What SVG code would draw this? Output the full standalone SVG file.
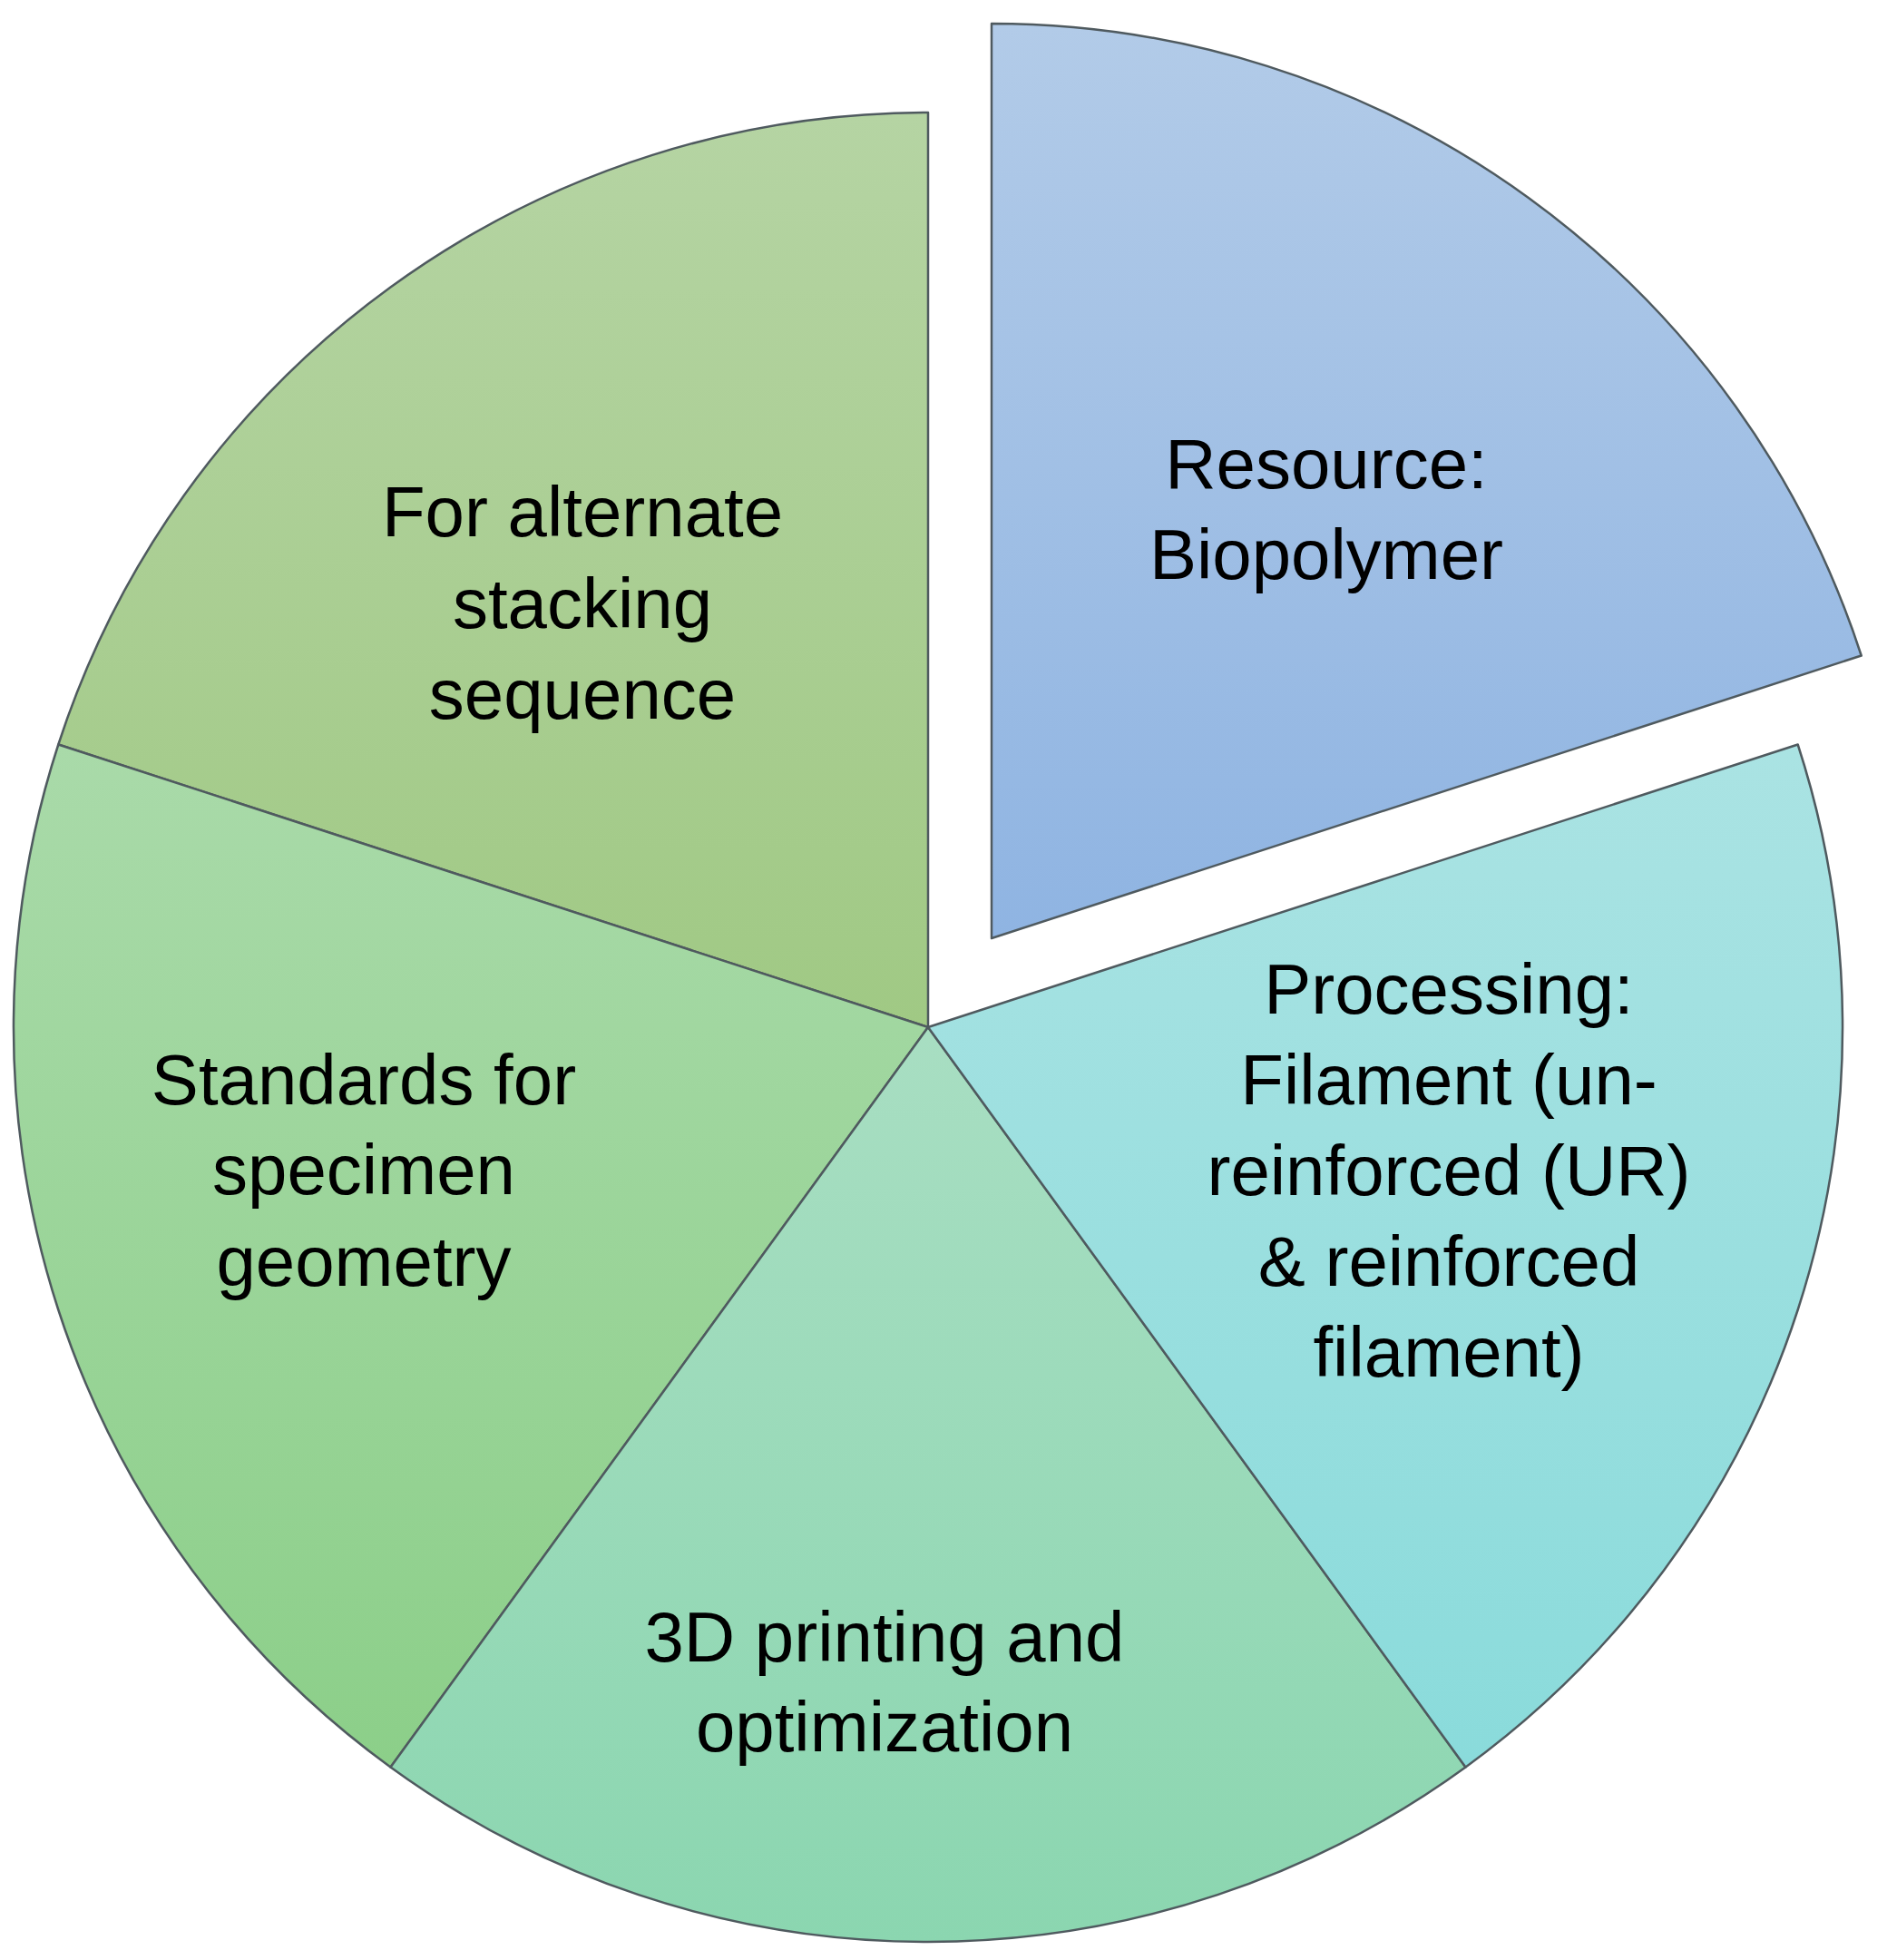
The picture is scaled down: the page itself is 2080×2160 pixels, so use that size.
<svg xmlns="http://www.w3.org/2000/svg" width="2080" height="2160" viewBox="0 0 2080 2160">
<defs>
<linearGradient id="gB" x1="0" y1="0" x2="0" y2="1"><stop offset="0" stop-color="#b2cbe8"/><stop offset="1" stop-color="#8fb4e2"/></linearGradient>
<linearGradient id="gC" x1="0" y1="0" x2="0" y2="1"><stop offset="0" stop-color="#aae3e3"/><stop offset="1" stop-color="#8adbdb"/></linearGradient>
<linearGradient id="gP" x1="0" y1="0" x2="0" y2="1"><stop offset="0" stop-color="#a8dec2"/><stop offset="1" stop-color="#8bd6b0"/></linearGradient>
<linearGradient id="gS" x1="0" y1="0" x2="0" y2="1"><stop offset="0" stop-color="#a9daa9"/><stop offset="1" stop-color="#8ccf89"/></linearGradient>
<linearGradient id="gA" x1="0" y1="0" x2="0" y2="1"><stop offset="0" stop-color="#b5d4a3"/><stop offset="1" stop-color="#a0c984"/></linearGradient>
</defs>
<style>
.sl{stroke:#4f5a5f;stroke-width:2.5;stroke-linejoin:round}
.t{font-family:"Liberation Sans",Arial,sans-serif;font-size:78px;fill:#000;text-anchor:middle}
</style>
<rect width="2080" height="2160" fill="#fff"/>
<g id="alternate">
<path class="sl" fill="url(#gA)" d="M1023,1132 L64.3,820.5 A1008,1008 0 0 1 1023,124 Z"/>
<text class="t" x="642" y="591">For alternate</text>
<text class="t" x="642" y="692">stacking</text>
<text class="t" x="642" y="792">sequence</text>
</g>
<g id="standards">
<path class="sl" fill="url(#gS)" d="M1023,1132 L430.5,1947.5 A1008,1008 0 0 1 64.3,820.5 Z"/>
<text class="t" x="401" y="1217">Standards for</text>
<text class="t" x="401" y="1316">specimen</text>
<text class="t" x="401" y="1417">geometry</text>
</g>
<g id="printing">
<path class="sl" fill="url(#gP)" d="M1023,1132 L1615.5,1947.5 A1008,1008 0 0 1 430.5,1947.5 Z"/>
<text class="t" x="975" y="1831">3D printing and</text>
<text class="t" x="975" y="1930">optimization</text>
</g>
<g id="processing">
<path class="sl" fill="url(#gC)" d="M1023,1132 L1981.7,820.5 A1008,1008 0 0 1 1615.5,1947.5 Z"/>
<text class="t" x="1597" y="1117">Processing:</text>
<text class="t" x="1597" y="1217">Filament (un-</text>
<text class="t" x="1597" y="1317">reinforced (UR)</text>
<text class="t" x="1597" y="1417">&amp; reinforced</text>
<text class="t" x="1597" y="1517">filament)</text>
</g>
<g id="resource">
<path class="sl" fill="url(#gB)" d="M1093,1034 L1093,26 A1008,1008 0 0 1 2051.7,722.5 Z"/>
<text class="t" x="1462" y="538">Resource:</text>
<text class="t" x="1462" y="638">Biopolymer</text>
</g>
<g id="connectors"/>
</svg>
